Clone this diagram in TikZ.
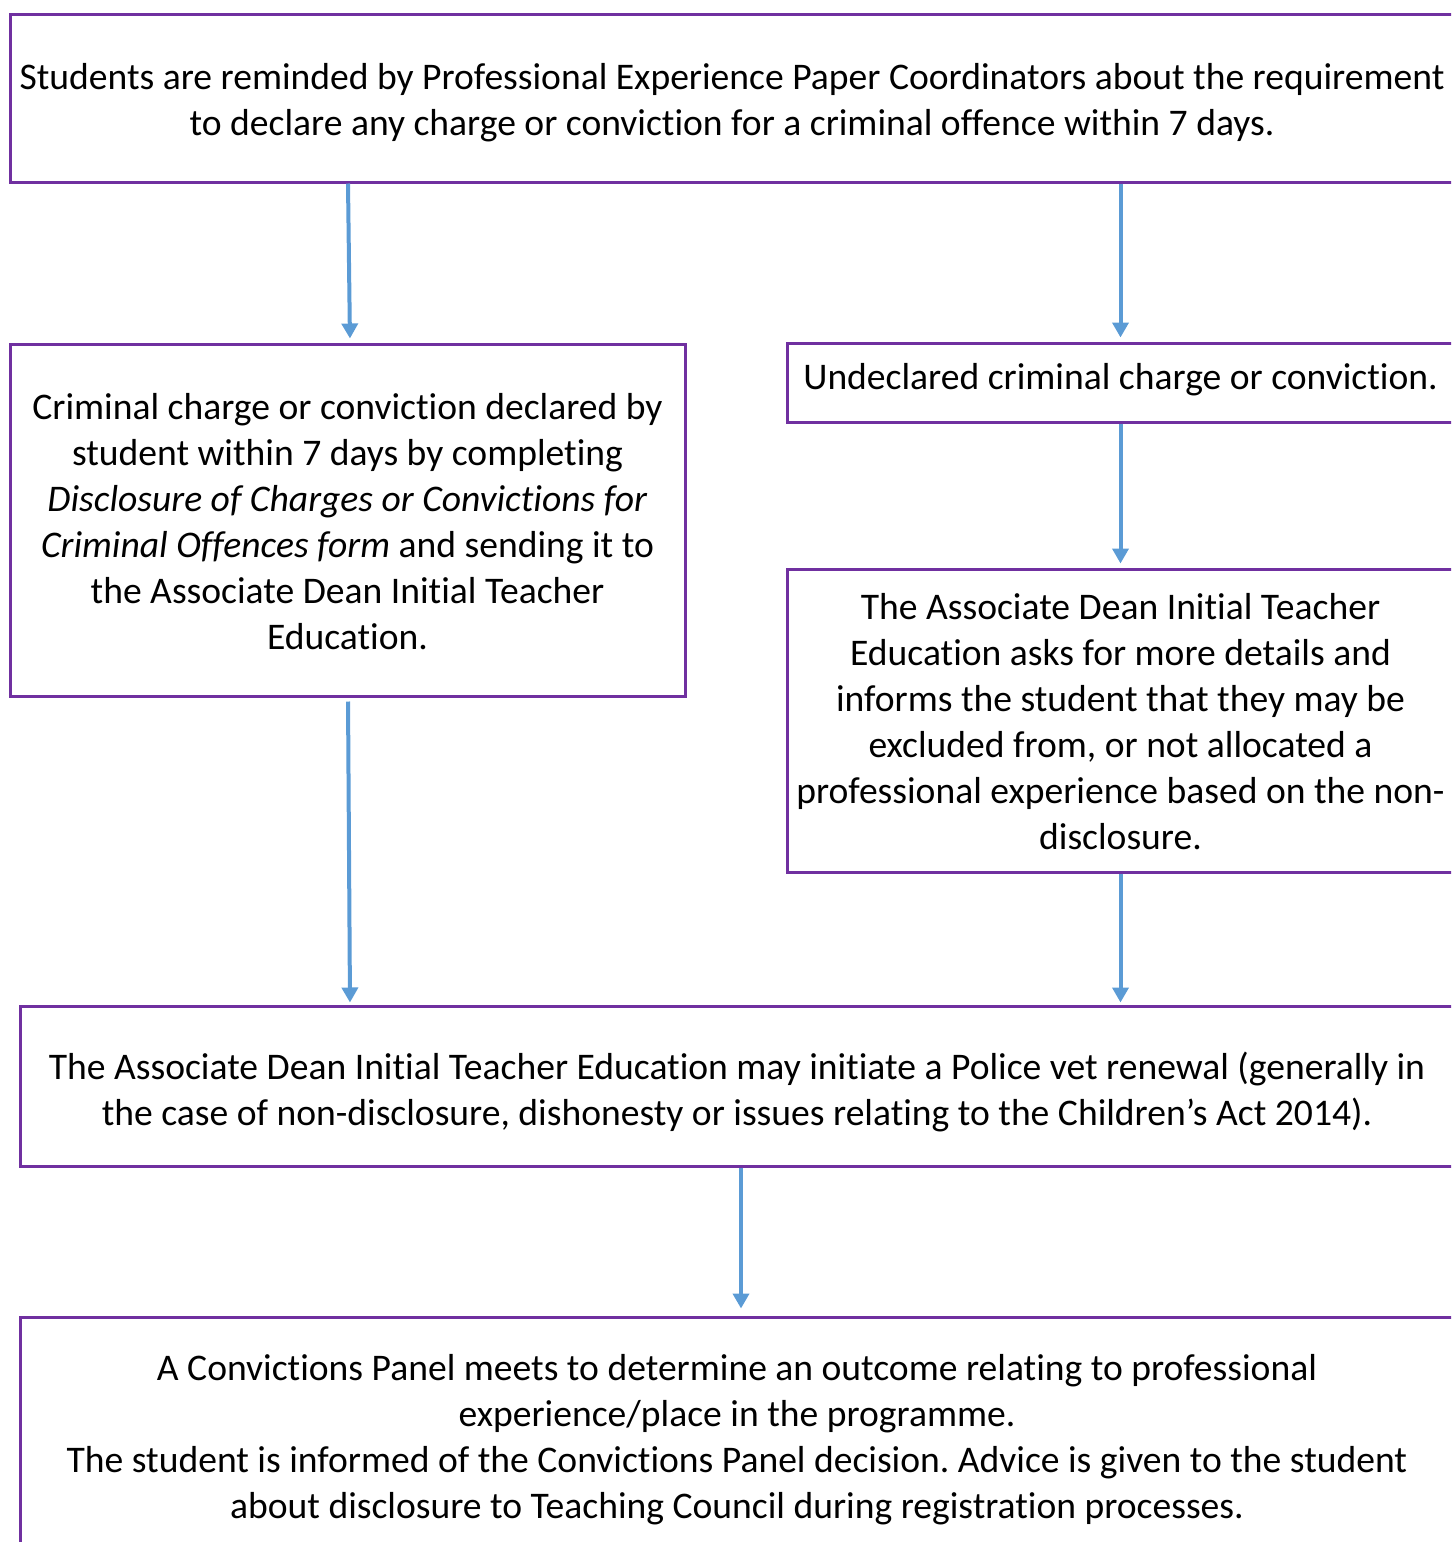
\documentclass[tikz,border=0pt]{standalone}
\usepackage{fontspec}
\setmainfont[RawFeature=-liga]{Carlito}
\usetikzlibrary{arrows.meta}
\definecolor{boxpurple}{HTML}{7030A0}
\definecolor{arrowblue}{HTML}{5B9BD5}
\frenchspacing
\begin{document}
\begin{tikzpicture}[x=1pt,y=-1pt,
  flowbox/.style={draw=boxpurple,line width=3pt,rectangle,inner sep=0pt},
  flowtext/.style={inner sep=0pt,align=center,font=\fontsize{37.6}{46}\selectfont},
  arr/.style={draw=arrowblue,line width=4pt,-{Triangle[width=16pt,length=15pt]}}]
\useasboundingbox (0,0) rectangle (1451,1542);
\clip (0,0) rectangle (1451,1542);
% boxes
\node[flowbox,minimum width=1444pt,minimum height=168pt] (b1) at (732,98) {};
\node[flowbox,minimum width=675pt,minimum height=352pt] (b2) at (347.5,520) {};
\node[flowbox,minimum width=667pt,minimum height=79pt] (b3) at (1120.5,382.5) {};
\node[flowbox,minimum width=667pt,minimum height=303pt] (b4) at (1120.5,720.5) {};
\node[flowbox,minimum width=1434pt,minimum height=160pt] (b5) at (737,1086) {};
\node[flowbox,minimum width=1434pt,minimum height=238pt] (b6) at (737,1436) {};
% texts
\node[flowtext] (t1) at ([yshift=-4.5pt]b1.center)
  {Students are reminded by Professional Experience Paper Coordinators about the requirement\\
   to declare any charge or conviction for a criminal offence within 7 days.};
\node[flowtext] (t2) at ([yshift=-1.5pt]b2.center)
  {Criminal charge or conviction declared by\\
   student within 7 days by completing\\
   \textit{Disclosure of Charges or Convictions for}\\
   \textit{Criminal Offences form} and sending it to\\
   the Associate Dean Initial Teacher\\
   Education.};
\node[flowtext] (t3) at ([yshift=3pt]b3.center)
  {Undeclared criminal charge or conviction.};
\node[flowtext] (t4) at ([yshift=-1pt]b4.center)
  {The Associate Dean Initial Teacher\\
   Education asks for more details and\\
   informs the student that they may be\\
   excluded from, or not allocated a\\
   professional experience based on the non-\\
   disclosure.};
\node[flowtext] (t5) at ([yshift=-6pt]b5.center)
  {The Associate Dean Initial Teacher Education may initiate a Police vet renewal (generally in\\
   the case of non-disclosure, dishonesty or issues relating to the Children’s Act 2014).};
\node[flowtext] (t6) at ([yshift=-4pt]b6.center)
  {A Convictions Panel meets to determine an outcome relating to professional\\
   experience/place in the programme.\\
   The student is informed of the Convictions Panel decision. Advice is given to the student\\
   about disclosure to Teaching Council during registration processes.};
% connectors
\draw[arr,shorten >=4pt] ([xshift=0.5pt]b1.south -| b2.north) -- ([xshift=2.5pt]b2.north);
\draw[arr,shorten >=4pt] (b1.south -| b3.north) -- (b3.north);
\draw[arr,shorten >=4pt] (b3.south) -- (b4.north);
\draw[arr,shorten <=4pt,shorten >=2pt] ([xshift=0.5pt]b2.south) -- ([xshift=2.5pt]b5.north -| b2.south);
\draw[arr,shorten >=2pt] (b4.south) -- (b5.north -| b4.south);
\draw[arr,shorten >=7pt] ([xshift=4pt]b5.south) -- ([xshift=4pt]b6.north);
\end{tikzpicture}
\end{document}
